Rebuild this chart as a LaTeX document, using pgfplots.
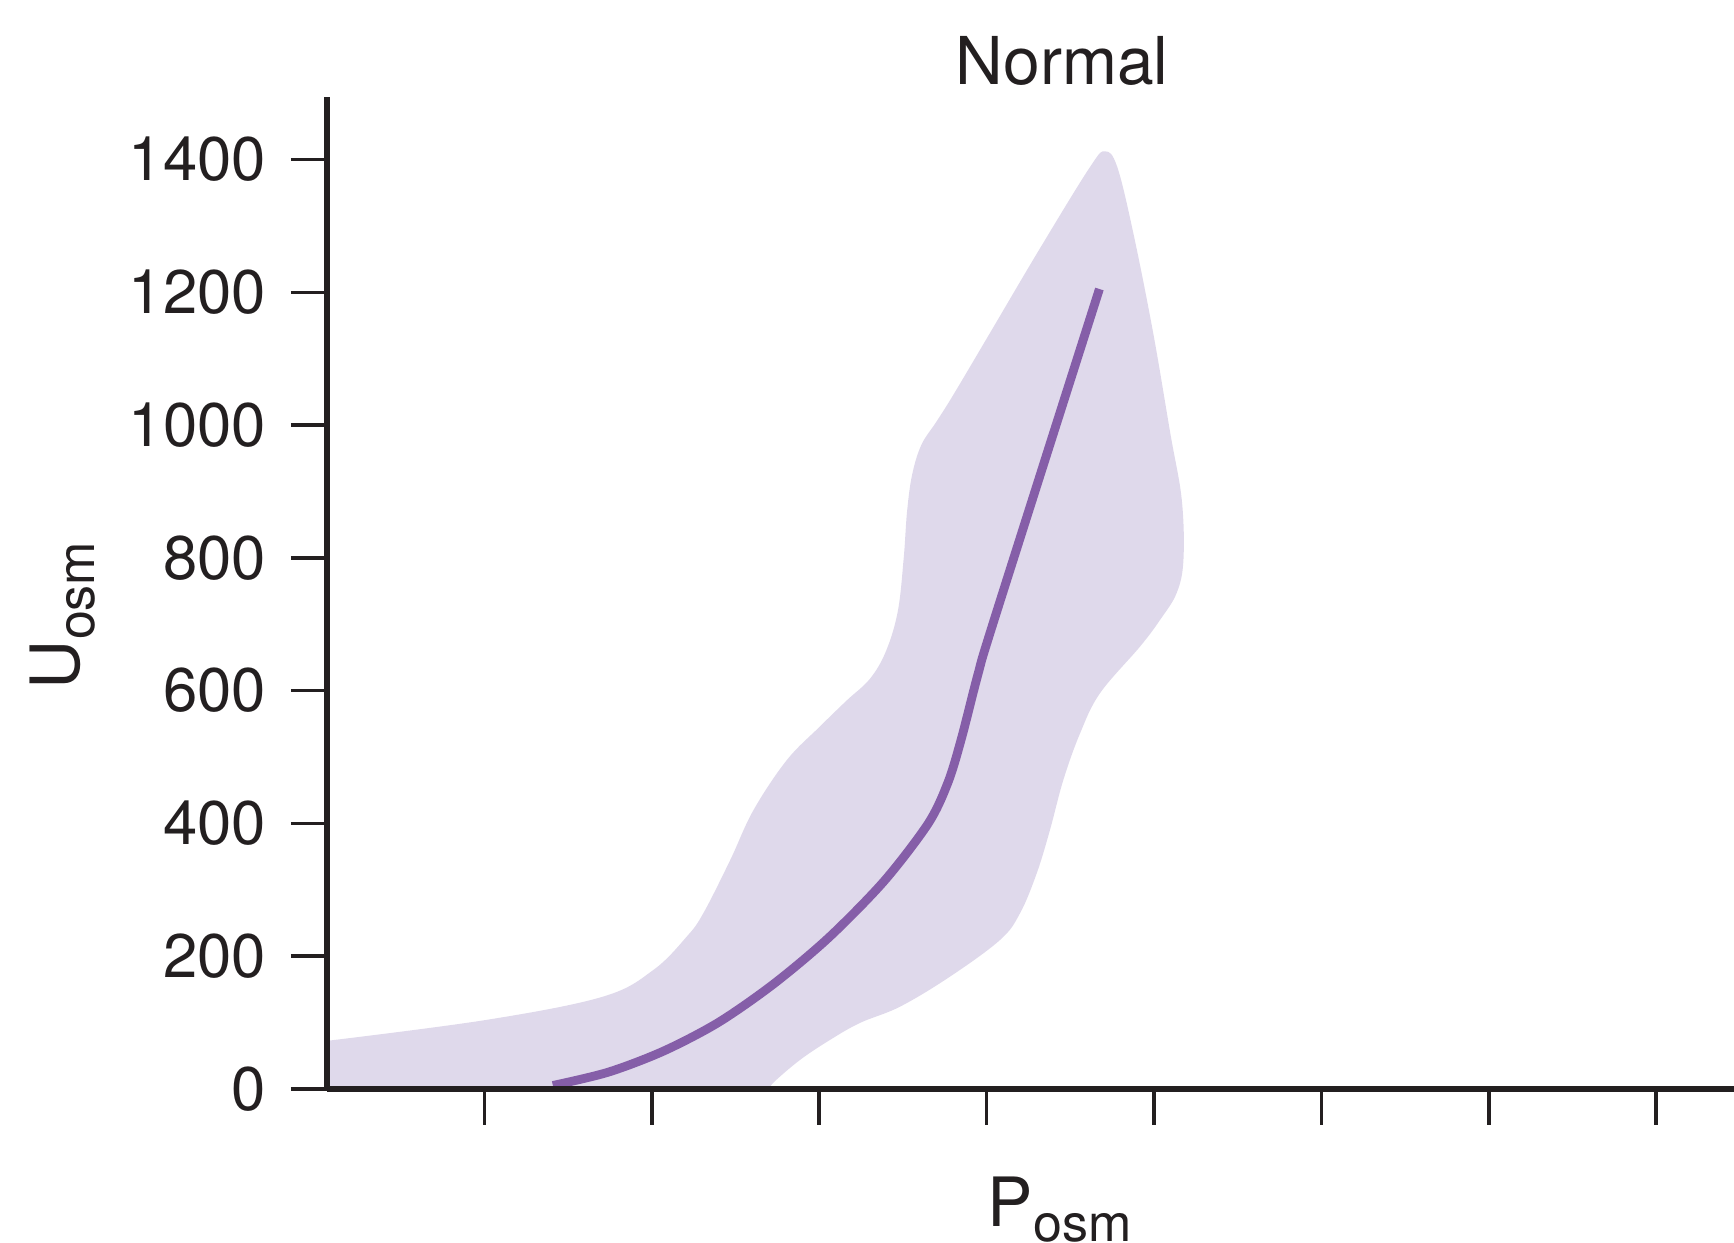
\documentclass[border=0pt]{standalone}
\usepackage{fontspec}
\setmainfont{TeX Gyre Heros}
\usepackage{pgfplots}
\pgfplotsset{compat=1.18}
\definecolor{bandc}{RGB}{223,217,235}
\definecolor{linec}{RGB}{133,94,168}
\definecolor{axc}{RGB}{35,31,32}
\begin{document}
\begin{tikzpicture}
\begin{axis}[
  scale only axis, width=351.8pt, height=247.9pt,
  xmin=0.0585, xmax=8.465, ymin=0, ymax=1494,
  axis lines=left,
  axis line style={-, line width=1.6pt, color=axc},
  axis on top,
  xtick={1,2,3,4,5,6,7,8}, xticklabels={},
  ytick={0,200,400,600,800,1000,1200,1400},
  tick align=outside, major tick length=9pt,
  tick style={line width=0.9pt, color=axc},
  yticklabel style={anchor=east, inner sep=0pt, xshift=-6pt, font=\fontsize{15.4}{18}\selectfont, text=axc},
  /pgf/number format/assume math mode=true,
  /pgf/number format/set thousands separator={},
  every axis title shift=0pt,
  title={Normal},
  title style={at={(axis description cs:0.5225,1.0133)}, anchor=base, inner sep=0pt, font=\fontsize{16.5}{20}\selectfont, text=axc},
  xlabel={P\raisebox{-3.75pt}{\fontsize{13}{15}\selectfont osm}},
  xlabel style={at={(axis description cs:0.5207,-0.1392)}, anchor=base, inner sep=0pt, font=\fontsize{17}{20}\selectfont, text=axc},
  ylabel={U\raisebox{-3.75pt}{\fontsize{13}{15}\selectfont osm}},
  ylabel style={at={(axis description cs:-0.1754,0.4774)}, anchor=base, inner sep=0pt, font=\fontsize{17}{20}\selectfont, text=axc},
]
\addplot[fill=bandc, draw=none, smooth, tension=0.6] coordinates {
(0.0585,72.2) (1.014,103.9) (1.709,138.9) (2.010,179.2) (2.209,229.4)
(2.308,264.6) (2.468,344.4) (2.607,419.7) (2.806,495.1) (3.004,545.8)
(3.164,585.0) (3.304,618) (3.40,660) (3.47,720) (3.505,800)
(3.525,870) (3.555,925) (3.61,970) (3.70,1005) (3.80,1045)
(4.021,1139.1) (4.314,1264.2) (4.619,1389.3)
(4.708,1412.4) (4.780,1389.3) (4.876,1289.9) (4.995,1139.1) (5.097,988.4)
(5.166,887.5) (5.176,797.0) (5.136,747.3) (5.037,706.7) (4.917,666.4)
(4.678,596.2) (4.559,535.9) (4.459,465.7) (4.379,390.3) (4.300,325.0)
(4.200,264.6) (4.081,224.4) (3.782,169.1) (3.484,123.9) (3.244,99.3)
(3.065,73.7) (2.886,43.6) (2.725,8.9) (2.713,0)
} \closedcycle;
\addplot[linec, line width=2.2pt, smooth, tension=0.5] coordinates {
(1.409,5) (1.739,25) (2.069,56.7) (2.398,100) (2.728,158) (3.058,228)
(3.388,313) (3.652,400) (3.770,462) (3.850,528) (3.949,625) (4.047,708)
(4.674,1205)
};
\end{axis}
\pgfresetboundingbox
\path[use as bounding box] (-81.7pt,-38.5pt) rectangle (351.8pt,272.2pt);
\end{tikzpicture}
\end{document}
